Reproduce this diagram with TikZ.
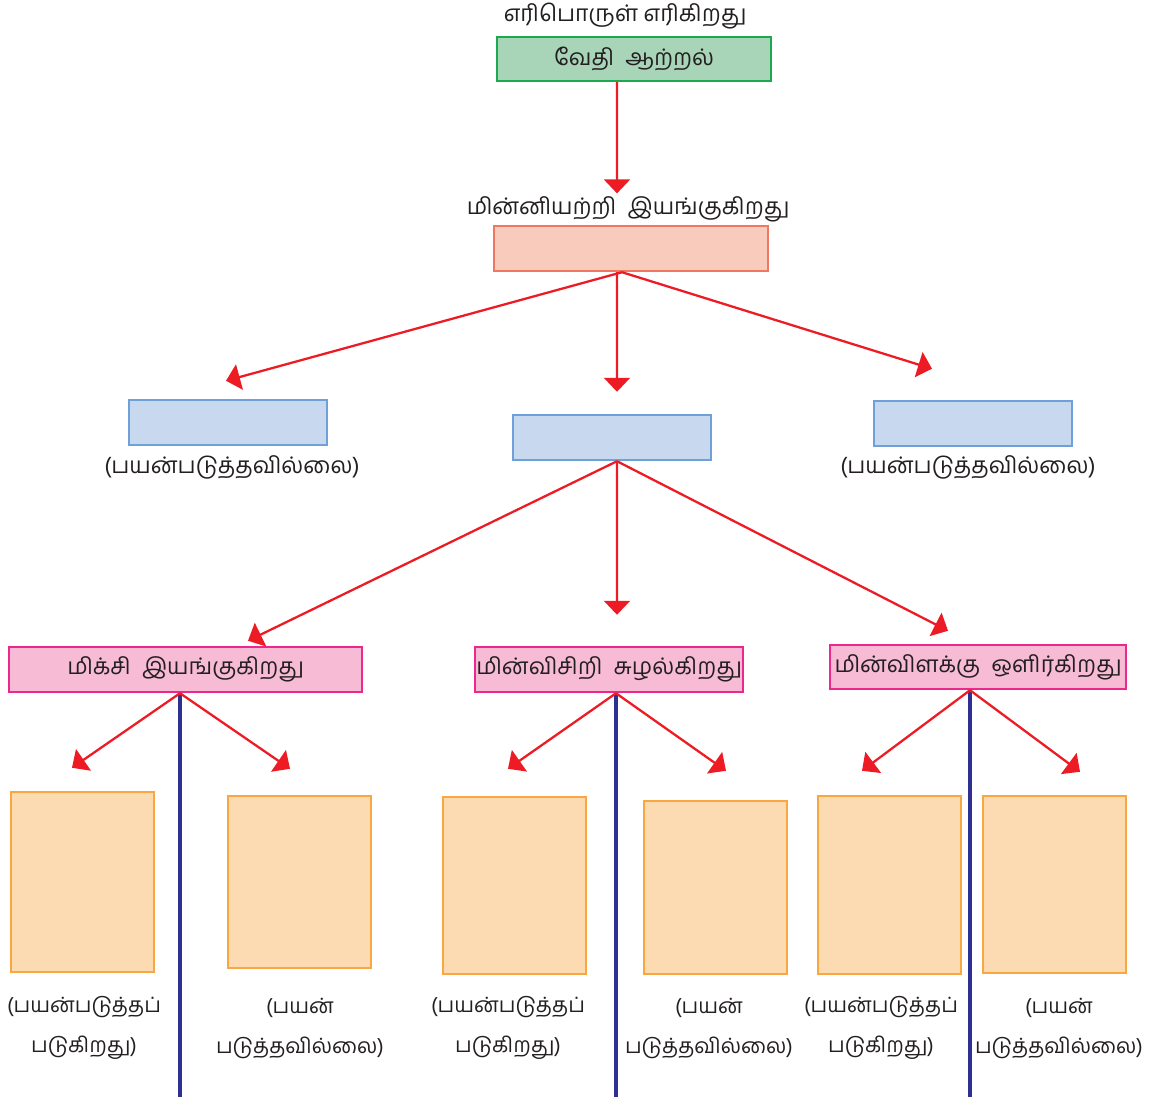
\documentclass[tikz,border=0pt]{standalone}
\usepackage{fontspec}
\newfontfamily\tamil[Script=Tamil]{Hind Madurai}
\usetikzlibrary{calc}
\usetikzlibrary{arrows.meta}
\definecolor{chemfill}{RGB}{168, 213, 184}
\definecolor{chemdraw}{RGB}{27, 168, 78}
\definecolor{genfill}{RGB}{249, 203, 188}
\definecolor{gendraw}{RGB}{240, 120, 96}
\definecolor{elecfill}{RGB}{200, 216, 238}
\definecolor{elecdraw}{RGB}{110, 160, 218}
\definecolor{devfill}{RGB}{247, 187, 214}
\definecolor{devdraw}{RGB}{236, 40, 140}
\definecolor{outfill}{RGB}{253, 219, 178}
\definecolor{outdraw}{RGB}{250, 166, 65}
\definecolor{flowred}{RGB}{237, 28, 36}
\definecolor{polenavy}{RGB}{46, 49, 146}
\definecolor{txtgray}{RGB}{35, 31, 32}
\tikzstyle{box} = [
	draw,
	line width=1.4pt,
	inner sep=0pt,
	minimum height=0.9cm,
	text=txtgray,
	font=\tamil\fontsize{13}{22.8}\selectfont
]
\tikzstyle{chembox} = [box, draw=chemdraw, fill=chemfill, minimum width=5.48cm, minimum height=0.88cm]
\tikzstyle{genbox} = [box, draw=gendraw, fill=genfill, minimum width=5.48cm]
\tikzstyle{elecbox} = [box, draw=elecdraw, fill=elecfill, minimum width=3.96cm]
\tikzstyle{devbox} = [box, draw=devdraw, fill=devfill]
\tikzstyle{outbox} = [box, draw=outdraw, fill=outfill, minimum width=2.86cm]
\tikzstyle{txt} = [
	text=txtgray,
	inner sep=0pt,
	align=center,
	font=\tamil\fontsize{13}{22.8}\selectfont
]
\tikzstyle{smalltxt} = [
	txt,
	font=\tamil\fontsize{12}{22.8}\selectfont
]
\tikzstyle{flow} = [
	draw=flowred,
	line width=1.3pt,
	-{Triangle[length=0.28cm, width=0.52cm]}
]
\tikzstyle{pole} = [
	draw=polenavy,
	line width=2.6pt
]
\begin{document}
\begin{tikzpicture}[x=0.02cm, y=-0.02cm]
	\useasboundingbox (0,0) rectangle (1149,1097);
	\coordinate (floor) at (0,1097);

	%
	% Source and generator
	\node[txt] at (625,16) (fueltext) {எரிபொருள் எரிகிறது};
	\node[chembox] at (634,59) (chem) {வேதி~~ஆற்றல்};
	\node[txt] at (628,209) (gentext) {மின்னியற்றி~~இயங்குகிறது};
	\node[genbox] at (631,248.5) (gen) {};

	%
	% Electric energy boxes
	\node[elecbox] at (228,422.5) (elecL) {};
	\node[elecbox] at (612,437.5) (elecM) {};
	\node[elecbox] at (973,423.5) (elecR) {};
	\node[txt] at (232,467) (unusedL) {(பயன்படுத்தவில்லை)};
	\node[txt] at (968,467) (unusedR) {(பயன்படுத்தவில்லை)};

	%
	% Devices
	\node[devbox, minimum width=7.06cm] at (185.5,669.5) (mixie) {மிக்சி~~இயங்குகிறது};
	\node[devbox, minimum width=5.36cm] at (609,669.5) (fan) {மின்விசிறி~~சுழல்கிறது};
	\node[devbox, minimum width=5.92cm, minimum height=0.88cm] at (978,667) (lamp) {மின்விளக்கு~~ஒளிர்கிறது};

	%
	% Output boxes
	\node[outbox, minimum height=3.6cm] at (82.5,882) (mixieuse) {};
	\node[outbox, minimum height=3.44cm] at (299.5,882) (mixiewaste) {};
	\node[outbox, minimum height=3.54cm] at (514.5,885.5) (fanuse) {};
	\node[outbox, minimum height=3.46cm] at (715.5,887.5) (fanwaste) {};
	\node[outbox, minimum height=3.56cm] at (889.5,885) (lampuse) {};
	\node[outbox, minimum height=3.54cm] at (1054.5,884.5) (lampwaste) {};

	\node[smalltxt] at (84,1028) (mixieusetext) {(பயன்படுத்தப்\\படுகிறது)};
	\node[smalltxt] at (300,1028) (mixiewastetext) {(பயன்\\படுத்தவில்லை)};
	\node[smalltxt] at (508,1028) (fanusetext) {(பயன்படுத்தப்\\படுகிறது)};
	\node[smalltxt] at (709,1028) (fanwastetext) {(பயன்\\படுத்தவில்லை)};
	\node[smalltxt] at (881,1028) (lampusetext) {(பயன்படுத்தப்\\படுகிறது)};
	\node[smalltxt] at (1059,1028) (lampwastetext) {(பயன்\\படுத்தவில்லை)};

	%
	% Poles
	\coordinate (mixietop) at ([xshift=-0.11cm]mixie.south);
	\coordinate (fantop) at ([xshift=0.14cm]fan.south);
	\coordinate (lamptop) at ([xshift=-0.16cm]lamp.south);
	\draw[pole] (mixietop) -- (mixietop |- floor);
	\draw[pole] (fantop) -- (fantop |- floor);
	\draw[pole] (lamptop) -- (lamptop |- floor);

	%
	% Arrows

	% chemical to generator
	\draw[flow] ([xshift=-0.34cm]chem.south) -- ([xshift=-0.22cm, yshift=0.05cm]gentext.north);

	% generator to electric
	\draw[flow] ([xshift=-0.18cm]gen.south) -- ([xshift=-0.04cm, yshift=0.36cm]elecL.north);
	\draw[flow] ([xshift=-0.28cm]gen.south) -- ([xshift=0.1cm, yshift=0.44cm]elecM.north);
	\draw[flow] ([xshift=-0.18cm]gen.south) -- ([xshift=-0.82cm, yshift=0.62cm]elecR.north);

	% electric to devices
	\draw[flow] ([xshift=0.1cm]elecM.south) -- ([xshift=1.25cm, yshift=0.1cm]mixie.north);
	\draw[flow] ([xshift=0.1cm]elecM.south) -- ([xshift=0.16cm, yshift=0.62cm]fan.north);
	\draw[flow] ([xshift=0.1cm]elecM.south) -- ([xshift=-0.6cm, yshift=0.26cm]lamp.north);

	% devices to outputs
	\draw[flow] (mixietop) -- ([xshift=-0.21cm, yshift=0.46cm]mixieuse.north);
	\draw[flow] (mixietop) -- ([xshift=-0.19cm, yshift=0.52cm]mixiewaste.north);
	\draw[flow] (fantop) -- ([xshift=-0.13cm, yshift=0.54cm]fanuse.north);
	\draw[flow] (fantop) -- ([xshift=0.21cm, yshift=0.58cm]fanwaste.north);
	\draw[flow] (lamptop) -- ([xshift=-0.55cm, yshift=0.48cm]lampuse.north);
	\draw[flow] (lamptop) -- ([xshift=0.51cm, yshift=0.46cm]lampwaste.north);

\end{tikzpicture}
\end{document}
